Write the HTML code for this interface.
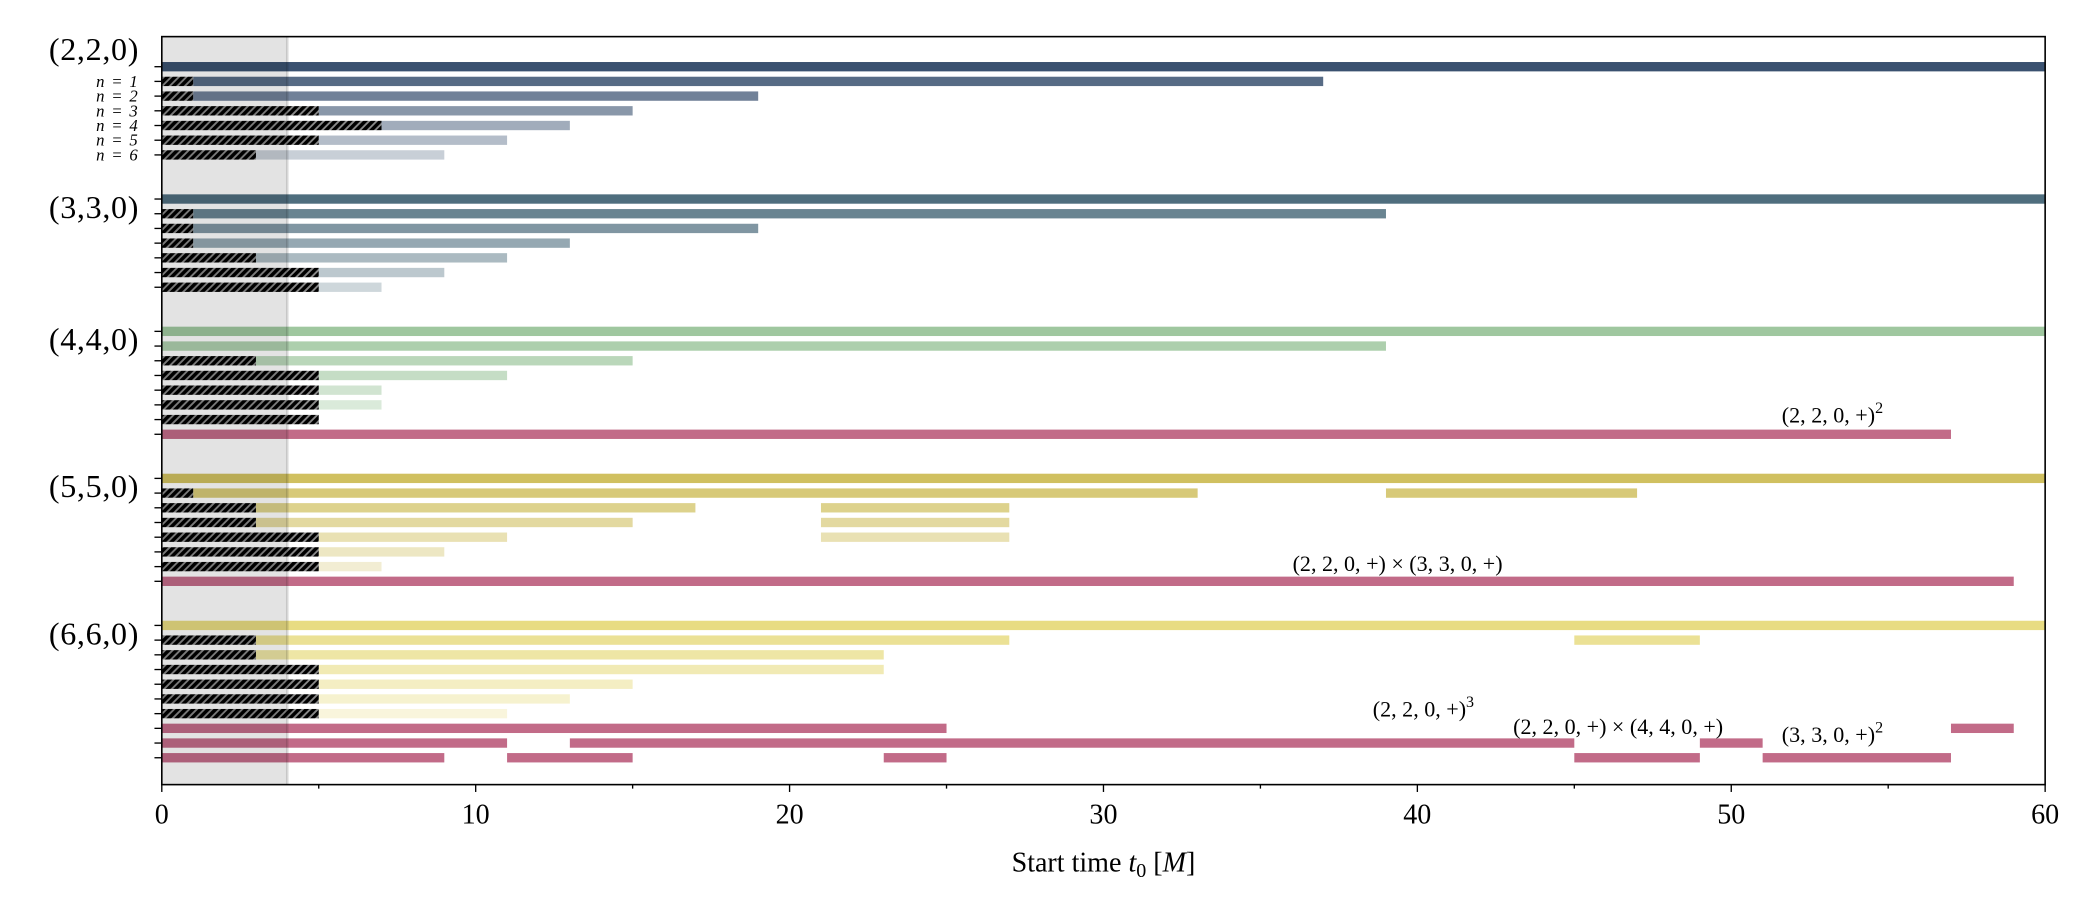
<!DOCTYPE html>
<html><head><meta charset="utf-8"><style>
html,body{margin:0;padding:0;background:#fff;}
svg{display:block;}
text{font-family:"Liberation Serif",serif;fill:#000;}
</style></head><body>
<svg id="s" width="2096" height="912" viewBox="0 0 1568 682.3" xmlns="http://www.w3.org/2000/svg">
<defs>
<pattern id="h" patternUnits="userSpaceOnUse" width="4" height="4" patternTransform="rotate(45)">
<rect width="4" height="4" fill="#8a8a8a"/><rect width="2.6" height="4" fill="#000"/>
</pattern>
</defs>
<rect x="0" y="0" width="1568" height="682.3" fill="#fff"/>
<g id="bars"></g>
<rect x="121" y="27.4" width="93.9" height="559.6" fill="#000" fill-opacity="0.11"/>
<line x1="214.9" y1="27.4" x2="214.9" y2="587" stroke="#000" stroke-opacity="0.12" stroke-width="2"/>
<rect x="121" y="27.4" width="1409" height="559.6" fill="none" stroke="#000" stroke-width="1.2"/>
<g id="ticks" stroke="#000" stroke-width="1"></g>
<g font-size="24" text-anchor="end" letter-spacing="0.5">
<text x="104" y="45">(2,2,0)</text>
<text x="104" y="163">(3,3,0)</text>
<text x="104" y="262">(4,4,0)</text>
<text x="104" y="372">(5,5,0)</text>
<text x="104" y="482">(6,6,0)</text>
</g>
<g font-size="12.5" text-anchor="end" font-style="italic" letter-spacing="1">
<text x="104" y="65">n  =  1</text>
<text x="104" y="76">n  =  2</text>
<text x="104" y="87">n  =  3</text>
<text x="104" y="98">n  =  4</text>
<text x="104" y="109">n  =  5</text>
<text x="104" y="120">n  =  6</text>
</g>
<g font-size="16.5">
<text x="1333" y="316">(2, 2, 0, +)<tspan dy="-7" font-size="12">2</tspan></text>
<text x="967" y="427">(2, 2, 0, +) × (3, 3, 0, +)</text>
<text x="1027" y="536">(2, 2, 0, +)<tspan dy="-7" font-size="12">3</tspan></text>
<text x="1132" y="549">(2, 2, 0, +) × (4, 4, 0, +)</text>
<text x="1333" y="555">(3, 3, 0, +)<tspan dy="-7" font-size="12">2</tspan></text>
</g>
<g font-size="21" text-anchor="middle">
<text x="121" y="616">0</text>
<text x="355.8" y="616">10</text>
<text x="590.7" y="616">20</text>
<text x="825.5" y="616">30</text>
<text x="1060.3" y="616">40</text>
<text x="1295.2" y="616">50</text>
<text x="1530" y="616">60</text>
<text x="825.5" y="652">Start time <tspan font-style="italic">t</tspan><tspan font-size="15" dy="4">0</tspan><tspan dy="-4"> [</tspan><tspan font-style="italic">M</tspan>]</text>
</g>
</svg>
<script>
var X=function(t){return 121+t*23.4833;},Y=function(k){return 49.9+11.0*k;};
var NS="http://www.w3.org/2000/svg",b=document.getElementById('bars'),tk=document.getElementById('ticks');
function r(x1,x2,k,f,o){var e=document.createElementNS(NS,'rect');e.setAttribute('x',X(x1));e.setAttribute('width',X(x2)-X(x1));e.setAttribute('y',Y(k)-3.5);e.setAttribute('height',7);e.setAttribute('fill',f);if(o!=null)e.setAttribute('fill-opacity',o);b.appendChild(e);}
var al=[1,0.85,0.72,0.6,0.48,0.38,0.28];
var groups=[
 {k:0,c:'#3a5170',rows:[[0,[[0,60]]],[1,[[1,37]]],[1,[[1,19]]],[5,[[5,15]]],[7,[[7,13]]],[5,[[5,11]]],[3,[[3,9]]]]},
 {k:9,c:'#4f6e7e',rows:[[0,[[0,60]]],[1,[[1,39]]],[1,[[1,19]]],[1,[[1,13]]],[3,[[3,11]]],[5,[[5,9]]],[5,[[5,7]]]]},
 {k:18,c:'#9fc79f',rows:[[0,[[0,60]]],[0,[[0,39]]],[3,[[3,15]]],[5,[[5,11]]],[5,[[5,7]]],[5,[[5,7]]],[5,[]]]},
 {k:28,c:'#d0c060',rows:[[0,[[0,60]]],[1,[[1,33],[39,47]]],[3,[[3,17],[21,27]]],[3,[[3,15],[21,27]]],[5,[[5,11],[21,27]]],[5,[[5,9]]],[5,[[5,7]]]]},
 {k:38,c:'#e8dc82',rows:[[0,[[0,60]]],[3,[[3,27],[45,49]]],[3,[[3,23]]],[5,[[5,23]]],[5,[[5,15]]],[5,[[5,13]]],[5,[[5,11]]]]}
];
groups.forEach(function(g){g.rows.forEach(function(row,i){var k=g.k+i;
 row[1].forEach(function(s){r(s[0],s[1],k,g.c,al[i]);});
 if(row[0]>0)r(0,row[0],k,'url(#h)');});});
var P='#c26b88';
r(0,57,25,P);r(0,59,35,P);
[[0,25],[57,59]].forEach(function(s){r(s[0],s[1],45,P);});
[[0,11],[13,45],[49,51]].forEach(function(s){r(s[0],s[1],46,P);});
[[0,9],[11,15],[23,25],[45,49],[51,57]].forEach(function(s){r(s[0],s[1],47,P);});
function ln(x1,y1,x2,y2){var e=document.createElementNS(NS,'line');e.setAttribute('x1',x1);e.setAttribute('y1',y1);e.setAttribute('x2',x2);e.setAttribute('y2',y2);tk.appendChild(e);}
var ks=[];for(var i=0;i<7;i++){ks.push(i,9+i,18+i,28+i,38+i);}ks.push(25,35,45,46,47);
ks.forEach(function(k){ln(115.5,Y(k),121,Y(k));});
for(var t=0;t<=60;t+=5){ln(X(t),587,X(t),t%10==0?592.5:590);}
</script>
</body></html>
